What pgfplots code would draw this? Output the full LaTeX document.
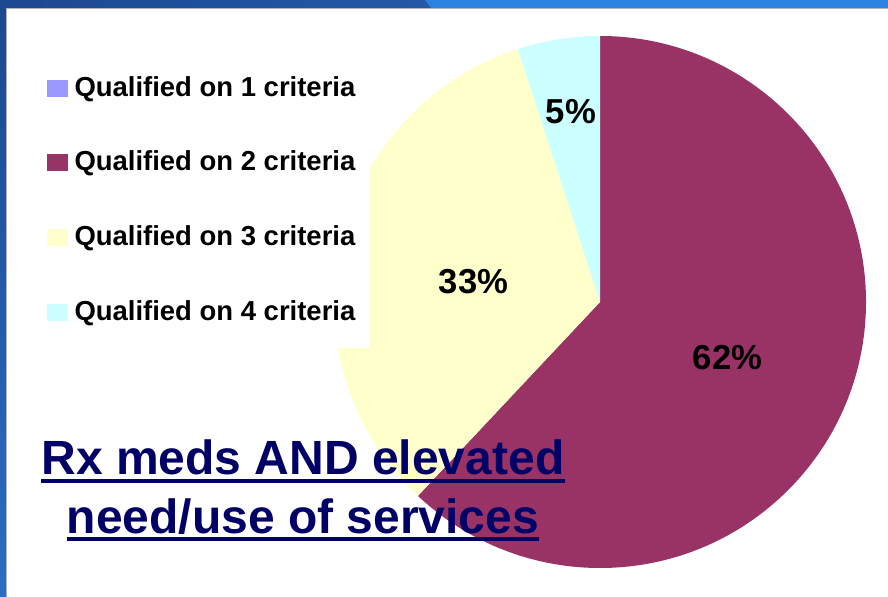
\documentclass[border=0pt]{standalone}
\usepackage{pgfplots}
\pgfplotsset{compat=1.18}
\usepackage{fontspec}
\setmainfont{Liberation Sans}

\definecolor{crit1}{HTML}{9999FF}
\definecolor{crit2}{HTML}{993366}
\definecolor{crit3}{HTML}{FFFFCC}
\definecolor{crit4}{HTML}{CCFFFF}
\definecolor{titleblue}{HTML}{000066}
\definecolor{banddark}{HTML}{1B4990}
\definecolor{bandmid}{HTML}{2458A8}
\definecolor{bandlight}{HTML}{2C82DF}
\definecolor{bandlow}{HTML}{2B6CC4}

% one pie slice: start (%), share (%), colour
\newcommand{\pieslice}[3]{%
  \fill[#3] (axis cs:600,294) -- ++({90-3.6*#1}:199.5pt)
    arc[start angle={90-3.6*#1}, delta angle={-3.6*#2}, radius=199.5pt] -- cycle;}

\begin{document}
\begin{tikzpicture}
\begin{axis}[
  at={(0,0)}, anchor=south west,
  scale only axis, width=666pt, height=447pt,
  xmin=0, xmax=888, ymin=0, ymax=596,
  enlargelimits=false, hide axis, clip=false,
  legend cell align=left,
  legend image code/.code={\fill[#1] (0pt,-6pt) rectangle (14.5pt,6pt);},
  legend style={at={(axis cs:47.3,521.3)}, anchor=north west,
    draw=none, fill=none, inner sep=0pt, outer sep=0pt,
    row sep=36pt, column sep=5.5pt,
    font=\bfseries\fontsize{20.6}{21}\selectfont,
    nodes={inner sep=0pt, text height=16pt, text depth=4pt}},
]
% slide frame
\fill[bandlight] (axis cs:0,588) rectangle (axis cs:888,596);
\shade[left color=banddark, right color=bandmid]
  (axis cs:0,596) -- (axis cs:425,596) -- (axis cs:431,588) -- (axis cs:0,588) -- cycle;
\shade[top color=banddark, bottom color=bandlow] (axis cs:0,0) rectangle (axis cs:6.5,588);
\draw[gray!60, line width=0.5pt] (axis cs:6.8,0) -- (axis cs:6.8,587.6) -- (axis cs:888,587.6);

% pie: shares in percent, clockwise from 12 o'clock
\pieslice{0}{62}{crit2}
\pieslice{62}{33}{crit3}
\pieslice{95}{5}{crit4}

% legend panel covers the left part of the pie
\fill[white] (axis cs:7.2,248) rectangle (axis cs:370,587.2);

\node[anchor=base, font=\bfseries\fontsize{26}{26}\selectfont] at (axis cs:571,472.7) {5\%};
\node[anchor=base, font=\bfseries\fontsize{26}{26}\selectfont] at (axis cs:473.5,302.7) {33\%};
\node[anchor=base, font=\bfseries\fontsize{26}{26}\selectfont] at (axis cs:727.5,226.7) {62\%};

\node (t1) [anchor=base, inner sep=0pt, text=titleblue,
  font=\bfseries\fontsize{36}{36}\selectfont] at (axis cs:303,121) {Rx meds AND elevated};
\node (t2) [anchor=base, inner sep=0pt, text=titleblue,
  font=\bfseries\fontsize{36}{36}\selectfont] at (axis cs:303,62.7) {need/use of services};
\draw[titleblue, line width=3pt] ([yshift=-4.7pt]t1.base west) -- ([yshift=-4.7pt]t1.base east);
\draw[titleblue, line width=3pt] ([yshift=-4.1pt]t2.base west) -- ([yshift=-4.1pt]t2.base east);

\addlegendimage{crit1}
\addlegendentry{Qualified on 1 criteria}
\addlegendimage{crit2}
\addlegendentry{Qualified on 2 criteria}
\addlegendimage{crit3}
\addlegendentry{Qualified on 3 criteria}
\addlegendimage{crit4}
\addlegendentry{Qualified on 4 criteria}
\end{axis}
\pgfresetboundingbox
\useasboundingbox (0,0) rectangle (666pt,447pt);
\end{tikzpicture}
\end{document}
